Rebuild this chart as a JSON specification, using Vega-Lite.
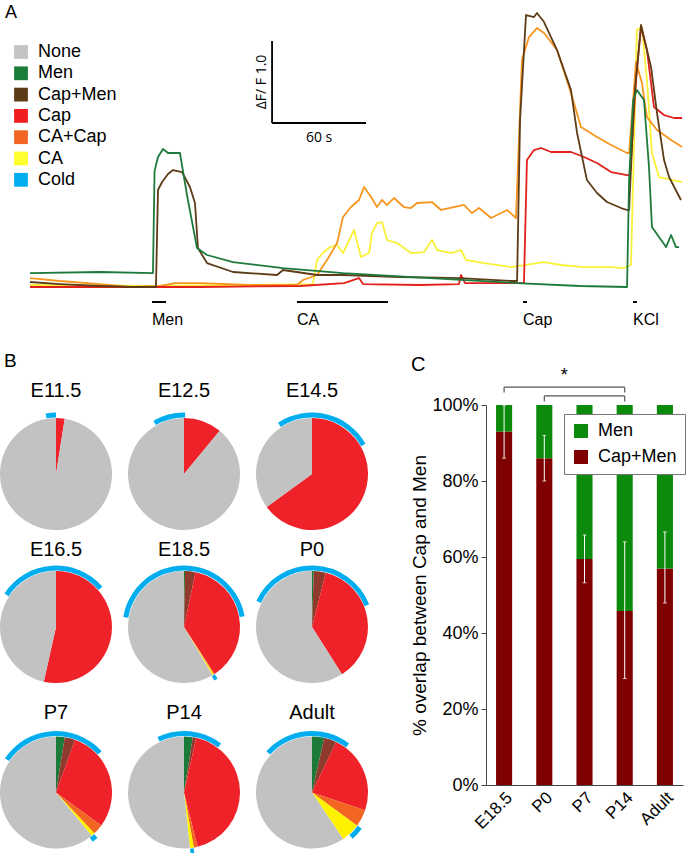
{
  "$schema": "https://vega.github.io/schema/vega-lite/v6.json",
  "padding": 0,
  "background": "white",
  "config": {"view": {"stroke": null}, "font": "Liberation Sans"},
  "datasets": {
    "traces": [
      {"s":"CA","t":0,"v":0.061},{"s":"CA","t":76.6,"v":0.049},{"s":"CA","t":140.4,"v":0.061},{"s":"CA","t":180.6,"v":0.073},{"s":"CA","t":183.2,"v":0.366},{"s":"CA","t":187.0,"v":0.451},{"s":"CA","t":191.5,"v":0.524},{"s":"CA","t":196.0,"v":0.549},{"s":"CA","t":199.8,"v":0.451},{"s":"CA","t":206.8,"v":0.732},{"s":"CA","t":211.3,"v":0.402},{"s":"CA","t":216.4,"v":0.451},{"s":"CA","t":218.3,"v":0.695},{"s":"CA","t":221.5,"v":0.817},{"s":"CA","t":224.7,"v":0.829},{"s":"CA","t":227.9,"v":0.61},{"s":"CA","t":234.3,"v":0.573},{"s":"CA","t":243.2,"v":0.451},{"s":"CA","t":251.5,"v":0.463},{"s":"CA","t":256.6,"v":0.61},{"s":"CA","t":259.8,"v":0.488},{"s":"CA","t":268.7,"v":0.451},{"s":"CA","t":275.1,"v":0.488},{"s":"CA","t":278.3,"v":0.366},{"s":"CA","t":289.8,"v":0.329},{"s":"CA","t":307.0,"v":0.28},{"s":"CA","t":328.1,"v":0.341},{"s":"CA","t":338.9,"v":0.305},{"s":"CA","t":353.6,"v":0.28},{"s":"CA","t":370.9,"v":0.28},{"s":"CA","t":379.2,"v":0.268},{"s":"CA","t":383.6,"v":0.305},{"s":"CA","t":387.4,"v":3.171},{"s":"CA","t":390.6,"v":3.207},{"s":"CA","t":393.8,"v":2.561},{"s":"CA","t":397.0,"v":1.671},{"s":"CA","t":401.5,"v":1.378},{"s":"CA","t":416.2,"v":1.317},
      {"s":"CA+Cap","t":0,"v":0.146},{"s":"CA+Cap","t":19.1,"v":0.11},{"s":"CA+Cap","t":44.7,"v":0.073},{"s":"CA+Cap","t":63.8,"v":0.037},{"s":"CA+Cap","t":83.0,"v":0.049},{"s":"CA+Cap","t":92.6,"v":0.085},{"s":"CA+Cap","t":108.5,"v":0.085},{"s":"CA+Cap","t":140.4,"v":0.061},{"s":"CA+Cap","t":170.4,"v":0.061},{"s":"CA+Cap","t":174.3,"v":0.122},{"s":"CA+Cap","t":183.2,"v":0.183},{"s":"CA+Cap","t":189.6,"v":0.366},{"s":"CA+Cap","t":196.0,"v":0.573},{"s":"CA+Cap","t":199.8,"v":0.89},{"s":"CA+Cap","t":204.9,"v":1.012},{"s":"CA+Cap","t":210.0,"v":1.098},{"s":"CA+Cap","t":213.2,"v":1.256},{"s":"CA+Cap","t":217.7,"v":1.134},{"s":"CA+Cap","t":221.5,"v":1.012},{"s":"CA+Cap","t":224.7,"v":1.098},{"s":"CA+Cap","t":227.9,"v":1.037},{"s":"CA+Cap","t":232.3,"v":1.122},{"s":"CA+Cap","t":238.7,"v":1.012},{"s":"CA+Cap","t":243.2,"v":1.0},{"s":"CA+Cap","t":247.0,"v":1.061},{"s":"CA+Cap","t":256.6,"v":1.073},{"s":"CA+Cap","t":262.3,"v":0.976},{"s":"CA+Cap","t":270.6,"v":1.012},{"s":"CA+Cap","t":277.0,"v":1.037},{"s":"CA+Cap","t":282.1,"v":0.939},{"s":"CA+Cap","t":286.6,"v":1.0},{"s":"CA+Cap","t":294.3,"v":0.878},{"s":"CA+Cap","t":304.5,"v":0.976},{"s":"CA+Cap","t":310.2,"v":0.878},{"s":"CA+Cap","t":314.0,"v":2.805},{"s":"CA+Cap","t":318.5,"v":3.085},{"s":"CA+Cap","t":323.6,"v":3.195},{"s":"CA+Cap","t":328.1,"v":3.134},{"s":"CA+Cap","t":336.4,"v":2.927},{"s":"CA+Cap","t":345.3,"v":2.402},{"s":"CA+Cap","t":351.7,"v":1.988},{"s":"CA+Cap","t":361.9,"v":1.866},{"s":"CA+Cap","t":370.9,"v":1.768},{"s":"CA+Cap","t":381.1,"v":1.671},{"s":"CA+Cap","t":382.4,"v":1.671},{"s":"CA+Cap","t":386.8,"v":2.78},{"s":"CA+Cap","t":390.6,"v":2.524},{"s":"CA+Cap","t":393.8,"v":2.11},{"s":"CA+Cap","t":400.2,"v":1.951},{"s":"CA+Cap","t":409.2,"v":1.829},{"s":"CA+Cap","t":416.2,"v":1.744},
      {"s":"Cap","t":0,"v":0.037},{"s":"Cap","t":44.7,"v":0.037},{"s":"Cap","t":108.5,"v":0.037},{"s":"Cap","t":172.3,"v":0.049},{"s":"Cap","t":200.4,"v":0.085},{"s":"Cap","t":210.0,"v":0.146},{"s":"Cap","t":212.6,"v":0.073},{"s":"Cap","t":248.9,"v":0.061},{"s":"Cap","t":273.8,"v":0.073},{"s":"Cap","t":275.1,"v":0.183},{"s":"Cap","t":277.7,"v":0.085},{"s":"Cap","t":313.4,"v":0.085},{"s":"Cap","t":315.3,"v":0.085},{"s":"Cap","t":317.2,"v":1.585},{"s":"Cap","t":321.7,"v":1.707},{"s":"Cap","t":326.2,"v":1.732},{"s":"Cap","t":332.6,"v":1.683},{"s":"Cap","t":345.3,"v":1.683},{"s":"Cap","t":353.6,"v":1.622},{"s":"Cap","t":361.9,"v":1.549},{"s":"Cap","t":370.9,"v":1.439},{"s":"Cap","t":381.1,"v":1.402},{"s":"Cap","t":383.0,"v":1.402},{"s":"Cap","t":386.8,"v":2.561},{"s":"Cap","t":390.0,"v":3.207},{"s":"Cap","t":393.8,"v":2.927},{"s":"Cap","t":398.3,"v":2.232},{"s":"Cap","t":404.7,"v":2.134},{"s":"Cap","t":411.1,"v":2.098},{"s":"Cap","t":416.2,"v":2.098},
      {"s":"Cap+Men","t":0,"v":0.098},{"s":"Cap+Men","t":19.1,"v":0.073},{"s":"Cap+Men","t":44.7,"v":0.049},{"s":"Cap+Men","t":65.7,"v":0.037},{"s":"Cap+Men","t":80.4,"v":0.037},{"s":"Cap+Men","t":81.7,"v":1.22},{"s":"Cap+Men","t":84.3,"v":1.317},{"s":"Cap+Men","t":88.1,"v":1.415},{"s":"Cap+Men","t":91.3,"v":1.463},{"s":"Cap+Men","t":97.0,"v":1.439},{"s":"Cap+Men","t":102.1,"v":1.256},{"s":"Cap+Men","t":105.3,"v":1.061},{"s":"Cap+Men","t":107.2,"v":0.512},{"s":"Cap+Men","t":113.0,"v":0.329},{"s":"Cap+Men","t":129.6,"v":0.22},{"s":"Cap+Men","t":157.7,"v":0.183},{"s":"Cap+Men","t":161.5,"v":0.244},{"s":"Cap+Men","t":183.2,"v":0.183},{"s":"Cap+Men","t":199.8,"v":0.183},{"s":"Cap+Men","t":236.2,"v":0.159},{"s":"Cap+Men","t":274.5,"v":0.146},{"s":"Cap+Men","t":307.0,"v":0.11},{"s":"Cap+Men","t":310.9,"v":0.11},{"s":"Cap+Men","t":312.8,"v":2.073},{"s":"Cap+Men","t":316.6,"v":3.354},{"s":"Cap+Men","t":321.7,"v":3.329},{"s":"Cap+Men","t":323.6,"v":3.378},{"s":"Cap+Men","t":328.1,"v":3.268},{"s":"Cap+Men","t":336.4,"v":2.927},{"s":"Cap+Men","t":345.3,"v":2.439},{"s":"Cap+Men","t":349.2,"v":1.915},{"s":"Cap+Men","t":355.5,"v":1.341},{"s":"Cap+Men","t":361.9,"v":1.183},{"s":"Cap+Men","t":368.3,"v":1.073},{"s":"Cap+Men","t":377.3,"v":1.0},{"s":"Cap+Men","t":381.1,"v":0.976},{"s":"Cap+Men","t":382.4,"v":0.976},{"s":"Cap+Men","t":385.6,"v":2.317},{"s":"Cap+Men","t":390.0,"v":3.232},{"s":"Cap+Men","t":396.4,"v":2.72},{"s":"Cap+Men","t":400.2,"v":2.159},{"s":"Cap+Men","t":404.7,"v":1.585},{"s":"Cap+Men","t":407.9,"v":1.378},{"s":"Cap+Men","t":415.5,"v":1.098},
      {"s":"Men","t":0,"v":0.207},{"s":"Men","t":44.7,"v":0.22},{"s":"Men","t":78.5,"v":0.207},{"s":"Men","t":79.5,"v":1.45},{"s":"Men","t":81.7,"v":1.622},{"s":"Men","t":84.9,"v":1.72},{"s":"Men","t":88.1,"v":1.671},{"s":"Men","t":95.7,"v":1.671},{"s":"Men","t":100.2,"v":1.159},{"s":"Men","t":106.6,"v":0.512},{"s":"Men","t":113.0,"v":0.427},{"s":"Men","t":129.6,"v":0.341},{"s":"Men","t":161.5,"v":0.268},{"s":"Men","t":199.8,"v":0.207},{"s":"Men","t":255.3,"v":0.146},{"s":"Men","t":310.9,"v":0.085},{"s":"Men","t":351.1,"v":0.049},{"s":"Men","t":381.1,"v":0.037},{"s":"Men","t":382.4,"v":1.341},{"s":"Men","t":385.0,"v":2.317},{"s":"Men","t":387.4,"v":2.439},{"s":"Men","t":391.9,"v":2.317},{"s":"Men","t":395.1,"v":1.5},{"s":"Men","t":397.0,"v":0.768},{"s":"Men","t":401.5,"v":0.646},{"s":"Men","t":406.0,"v":0.524},{"s":"Men","t":409.2,"v":0.671},{"s":"Men","t":412.3,"v":0.524},{"s":"Men","t":414.3,"v":0.524}
    ],
    "scalebar": [
      {"t":154.5,"t2":154.5,"v":2.037,"v2":3.037},
      {"t":154.5,"t2":214.5,"v":2.037,"v2":2.037}
    ],
    "events": [
      {"label":"Men","t":77.9,"t2":86.8},
      {"label":"CA","t":170.4,"t2":228.5},
      {"label":"Cap","t":314.7,"t2":317.2},
      {"label":"KCl","t":384.9,"t2":387.4}
    ],
    "cats": [{"cat":"None"},{"cat":"Men"},{"cat":"Cap+Men"},{"cat":"Cap"},{"cat":"CA+Cap"},{"cat":"CA"},{"cat":"Cold"}],
    "pies": [
      {"stage":"E11.5","row":1,"kind":"slice","cat":"Cap","ord":3,"pct":2.5},
      {"stage":"E11.5","row":1,"kind":"slice","cat":"None","ord":6,"pct":97.5},
      {"stage":"E11.5","row":1,"kind":"cold","cat":"Cold","start":-2.7,"end":0},
      {"stage":"E12.5","row":1,"kind":"slice","cat":"Cap","ord":3,"pct":11},
      {"stage":"E12.5","row":1,"kind":"slice","cat":"None","ord":6,"pct":89},
      {"stage":"E12.5","row":1,"kind":"cold","cat":"Cold","start":-8.3,"end":0.3},
      {"stage":"E14.5","row":1,"kind":"slice","cat":"Cap","ord":3,"pct":65},
      {"stage":"E14.5","row":1,"kind":"slice","cat":"None","ord":6,"pct":35},
      {"stage":"E14.5","row":1,"kind":"cold","cat":"Cold","start":-9.3,"end":16.8},
      {"stage":"E16.5","row":2,"kind":"slice","cat":"Cap","ord":3,"pct":53.5},
      {"stage":"E16.5","row":2,"kind":"slice","cat":"None","ord":6,"pct":46.5},
      {"stage":"E16.5","row":2,"kind":"cold","cat":"Cold","start":-15.8,"end":13.6},
      {"stage":"E18.5","row":2,"kind":"slice","cat":"Men","ord":1,"pct":0.3},
      {"stage":"E18.5","row":2,"kind":"slice","cat":"Cap+Men","ord":2,"pct":3},
      {"stage":"E18.5","row":2,"kind":"slice","cat":"Cap","ord":3,"pct":37.5},
      {"stage":"E18.5","row":2,"kind":"slice","cat":"CA+Cap","ord":4,"pct":0.3},
      {"stage":"E18.5","row":2,"kind":"slice","cat":"CA","ord":5,"pct":0.4},
      {"stage":"E18.5","row":2,"kind":"slice","cat":"None","ord":6,"pct":58.5},
      {"stage":"E18.5","row":2,"kind":"cold","cat":"Cold","start":-22.4,"end":22.2},
      {"stage":"E18.5","row":2,"kind":"cold","cat":"Cold","start":40.8,"end":41.8},
      {"stage":"P0","row":2,"kind":"slice","cat":"Men","ord":1,"pct":0.5},
      {"stage":"P0","row":2,"kind":"slice","cat":"Cap+Men","ord":2,"pct":3.5},
      {"stage":"P0","row":2,"kind":"slice","cat":"Cap","ord":3,"pct":37},
      {"stage":"P0","row":2,"kind":"slice","cat":"None","ord":6,"pct":59},
      {"stage":"P0","row":2,"kind":"cold","cat":"Cold","start":-18,"end":19},
      {"stage":"P7","row":3,"kind":"slice","cat":"Men","ord":1,"pct":2.5},
      {"stage":"P7","row":3,"kind":"slice","cat":"Cap+Men","ord":2,"pct":3},
      {"stage":"P7","row":3,"kind":"slice","cat":"Cap","ord":3,"pct":29.5},
      {"stage":"P7","row":3,"kind":"slice","cat":"CA+Cap","ord":4,"pct":3},
      {"stage":"P7","row":3,"kind":"slice","cat":"CA","ord":5,"pct":1},
      {"stage":"P7","row":3,"kind":"slice","cat":"None","ord":6,"pct":61},
      {"stage":"P7","row":3,"kind":"cold","cat":"Cold","start":-15.6,"end":13.3},
      {"stage":"P7","row":3,"kind":"cold","cat":"Cold","start":38.2,"end":39.8},
      {"stage":"P14","row":3,"kind":"slice","cat":"Men","ord":1,"pct":2.5},
      {"stage":"P14","row":3,"kind":"slice","cat":"Cap+Men","ord":2,"pct":1},
      {"stage":"P14","row":3,"kind":"slice","cat":"Cap","ord":3,"pct":42.6},
      {"stage":"P14","row":3,"kind":"slice","cat":"CA+Cap","ord":4,"pct":1.1},
      {"stage":"P14","row":3,"kind":"slice","cat":"CA","ord":5,"pct":1.1},
      {"stage":"P14","row":3,"kind":"slice","cat":"None","ord":6,"pct":51.7},
      {"stage":"P14","row":3,"kind":"cold","cat":"Cold","start":-7.1,"end":10.3},
      {"stage":"P14","row":3,"kind":"cold","cat":"Cold","start":47.3,"end":48.3},
      {"stage":"Adult","row":3,"kind":"slice","cat":"Men","ord":1,"pct":3.5},
      {"stage":"Adult","row":3,"kind":"slice","cat":"Cap+Men","ord":2,"pct":3.6},
      {"stage":"Adult","row":3,"kind":"slice","cat":"Cap","ord":3,"pct":23},
      {"stage":"Adult","row":3,"kind":"slice","cat":"CA+Cap","ord":4,"pct":5},
      {"stage":"Adult","row":3,"kind":"slice","cat":"CA","ord":5,"pct":5.5},
      {"stage":"Adult","row":3,"kind":"slice","cat":"None","ord":6,"pct":59.4},
      {"stage":"Adult","row":3,"kind":"cold","cat":"Cold","start":-13.3,"end":10.3},
      {"stage":"Adult","row":3,"kind":"cold","cat":"Cold","start":35,"end":38.5}
    ],
    "overlap": [
      {"stage":"E18.5","grp":"Cap+Men","ord":1,"val":93},{"stage":"E18.5","grp":"Men","ord":2,"val":7},
      {"stage":"P0","grp":"Cap+Men","ord":1,"val":86},{"stage":"P0","grp":"Men","ord":2,"val":14},
      {"stage":"P7","grp":"Cap+Men","ord":1,"val":59.5},{"stage":"P7","grp":"Men","ord":2,"val":40.5},
      {"stage":"P14","grp":"Cap+Men","ord":1,"val":45.8},{"stage":"P14","grp":"Men","ord":2,"val":54.2},
      {"stage":"Adult","grp":"Cap+Men","ord":1,"val":57},{"stage":"Adult","grp":"Men","ord":2,"val":43}
    ],
    "errs": [
      {"stage":"E18.5","lo":86,"hi":100},
      {"stage":"P0","lo":80,"hi":92},
      {"stage":"P7","lo":53.2,"hi":65.8},
      {"stage":"P14","lo":28,"hi":64},
      {"stage":"Adult","lo":47.9,"hi":66.6}
    ],
    "brackets": [
      {"stage":"E18.5","stage2":"P14","y":104.7,"y2":103.3},
      {"stage":"P0","stage2":"P14","y":102.4,"y2":100.9}
    ]
  },
  "spacing": 20,
  "resolve": {
    "scale": {"color": "independent", "fill": "independent", "stroke": "independent", "theta": "independent"},
    "legend": {"color": "independent", "fill": "independent", "stroke": "independent"}
  },
  "vconcat": [
    {
      "width": 688,
      "height": 332,
      "title": {"text": "A", "anchor": "start", "frame": "group", "orient": "top", "offset": -36, "baseline": "alphabetic", "fontSize": 18, "fontWeight": "normal", "dx": 5, "color": "black"},
      "layer": [
        {
          "data": {"name": "traces"},
          "mark": {"type": "line", "strokeWidth": 1.8, "strokeJoin": "round"},
          "encoding": {
            "x": {"field": "t", "type": "quantitative", "scale": {"domain": [-19.15, 420], "nice": false, "zero": false}, "axis": null},
            "y": {"field": "v", "type": "quantitative", "scale": {"domain": [-0.512, 3.537], "nice": false, "zero": false}, "axis": null},
            "stroke": {"field": "s", "type": "nominal", "scale": {"domain": ["CA", "CA+Cap", "Cap", "Cap+Men", "Men"], "range": ["#f9f03a", "#f7961e", "#e3201c", "#5e3c17", "#1e7a3c"]}, "legend": null}
          }
        },
        {
          "data": {"name": "scalebar"},
          "mark": {"type": "rule", "color": "black", "strokeWidth": 1.8},
          "encoding": {
            "x": {"field": "t", "type": "quantitative", "scale": {"domain": [-19.15, 420], "nice": false, "zero": false}, "axis": null},
            "y": {"field": "v", "type": "quantitative", "scale": {"domain": [-0.512, 3.537], "nice": false, "zero": false}, "axis": null},
            "x2": {"field": "t2"}, "y2": {"field": "v2"}
          }
        },
        {
          "data": {"values": [{"t": 184.5, "v": 1.854, "label": "60 s"}]},
          "mark": {"type": "text", "font": "Open Sans", "fontSize": 14, "baseline": "middle", "align": "center", "color": "black"},
          "encoding": {
            "x": {"field": "t", "type": "quantitative", "scale": {"domain": [-19.15, 420], "nice": false, "zero": false}, "axis": null},
            "y": {"field": "v", "type": "quantitative", "scale": {"domain": [-0.512, 3.537], "nice": false, "zero": false}, "axis": null},
            "text": {"field": "label"}
          }
        },
        {
          "data": {"values": [{"t": 148.1, "v": 2.537, "label": "ΔF/ F 1.0"}]},
          "mark": {"type": "text", "font": "Open Sans", "fontSize": 14, "baseline": "middle", "align": "center", "angle": 270, "color": "black"},
          "encoding": {
            "x": {"field": "t", "type": "quantitative", "scale": {"domain": [-19.15, 420], "nice": false, "zero": false}, "axis": null},
            "y": {"field": "v", "type": "quantitative", "scale": {"domain": [-0.512, 3.537], "nice": false, "zero": false}, "axis": null},
            "text": {"field": "label"}
          }
        },
        {
          "data": {"name": "events"},
          "mark": {"type": "rule", "color": "black", "strokeWidth": 2},
          "encoding": {
            "x": {"field": "t", "type": "quantitative", "scale": {"domain": [-19.15, 420], "nice": false, "zero": false}, "axis": null},
            "x2": {"field": "t2"},
            "y": {"datum": -0.146, "type": "quantitative", "scale": {"domain": [-0.512, 3.537], "nice": false, "zero": false}, "axis": null}
          }
        },
        {
          "data": {"name": "events"},
          "mark": {"type": "text", "fontSize": 16, "align": "left", "baseline": "middle", "color": "black"},
          "encoding": {
            "x": {"field": "t", "type": "quantitative", "scale": {"domain": [-19.15, 420], "nice": false, "zero": false}, "axis": null},
            "y": {"datum": -0.366, "type": "quantitative", "scale": {"domain": [-0.512, 3.537], "nice": false, "zero": false}, "axis": null},
            "text": {"field": "label"}
          }
        },
        {
          "data": {"name": "cats"},
          "mark": {"type": "square", "opacity": 0, "size": 0},
          "encoding": {
            "fill": {
              "field": "cat", "type": "nominal",
              "scale": {"domain": ["None", "Men", "Cap+Men", "Cap", "CA+Cap", "CA", "Cold"], "range": ["#c3c3c3", "#1b7d3a", "#5c3a16", "#f01e1e", "#f26522", "#ffff2e", "#00aeef"]},
              "legend": {"title": null, "orient": "none", "legendX": 12, "legendY": 43, "symbolType": "square", "symbolSize": 190, "symbolOpacity": 1, "symbolStrokeWidth": 0, "labelFontSize": 18, "labelFont": "Liberation Sans", "labelColor": "black", "rowPadding": 3.3, "padding": 0, "labelOffset": 8}
            }
          }
        }
      ]
    },
    {
      "spacing": 40,
      "resolve": {"scale": {"color": "independent", "theta": "independent"}, "legend": {"color": "independent"}},
      "hconcat": [
        {
          "title": {"text": "B", "anchor": "start", "frame": "group", "fontSize": 19, "fontWeight": "normal", "offset": 10, "dx": 4, "color": "black"},
          "spacing": 19.5,
          "vconcat": [
            {
              "spacing": -3,
              "vconcat": [
                {
                  "data": {"name": "pies"},
                  "transform": [{"filter": "datum.row == 1"}],
                  "bounds": "flush",
                  "spacing": 16,
                  "facet": {"column": {"field": "stage", "type": "nominal", "sort": ["E11.5", "E12.5", "E14.5"], "header": {"title": null, "labelFontSize": 20, "labelPadding": -12, "labelFont": "Liberation Sans", "labelBaseline": "alphabetic", "labelColor": "black"}}},
                  "spec": {
                    "width": 112, "height": 138,
                    "layer": [
                      {"transform": [{"filter": "datum.kind == 'slice'"}], "mark": {"type": "arc", "radius": 56}, "encoding": {"theta": {"field": "pct", "type": "quantitative", "stack": true, "scale": {"domain": [0, 100], "range": [0, 6.283185]}}, "color": {"field": "cat", "type": "nominal", "scale": {"domain": ["None", "Men", "Cap+Men", "Cap", "CA+Cap", "CA", "Cold"], "range": ["#c2c2c2", "#1b7a38", "#8e3a2c", "#ef2229", "#f26522", "#fff200", "#00aeef"]}, "legend": null}, "order": {"field": "ord", "type": "quantitative"}}},
                      {"transform": [{"filter": "datum.kind == 'cold'"}], "mark": {"type": "arc", "radius": 61.5, "radius2": 56.5}, "encoding": {"theta": {"field": "start", "type": "quantitative", "scale": {"domain": [0, 100], "range": [0, 6.283185]}}, "theta2": {"field": "end"}, "color": {"field": "cat", "type": "nominal", "scale": {"domain": ["None", "Men", "Cap+Men", "Cap", "CA+Cap", "CA", "Cold"], "range": ["#c2c2c2", "#1b7a38", "#8e3a2c", "#ef2229", "#f26522", "#fff200", "#00aeef"]}, "legend": null}}}
                    ]
                  }
                },
                {
                  "data": {"name": "pies"},
                  "transform": [{"filter": "datum.row == 2"}],
                  "bounds": "flush",
                  "spacing": 16,
                  "facet": {"column": {"field": "stage", "type": "nominal", "sort": ["E16.5", "E18.5", "P0"], "header": {"title": null, "labelFontSize": 20, "labelPadding": -5, "labelFont": "Liberation Sans", "labelBaseline": "alphabetic", "labelColor": "black"}}},
                  "spec": {
                    "width": 112, "height": 112,
                    "layer": [
                      {"transform": [{"filter": "datum.kind == 'slice'"}], "mark": {"type": "arc", "radius": 56}, "encoding": {"theta": {"field": "pct", "type": "quantitative", "stack": true, "scale": {"domain": [0, 100], "range": [0, 6.283185]}}, "color": {"field": "cat", "type": "nominal", "scale": {"domain": ["None", "Men", "Cap+Men", "Cap", "CA+Cap", "CA", "Cold"], "range": ["#c2c2c2", "#1b7a38", "#8e3a2c", "#ef2229", "#f26522", "#fff200", "#00aeef"]}, "legend": null}, "order": {"field": "ord", "type": "quantitative"}}},
                      {"transform": [{"filter": "datum.kind == 'cold'"}], "mark": {"type": "arc", "radius": 61.5, "radius2": 56.5}, "encoding": {"theta": {"field": "start", "type": "quantitative", "scale": {"domain": [0, 100], "range": [0, 6.283185]}}, "theta2": {"field": "end"}, "color": {"field": "cat", "type": "nominal", "scale": {"domain": ["None", "Men", "Cap+Men", "Cap", "CA+Cap", "CA", "Cold"], "range": ["#c2c2c2", "#1b7a38", "#8e3a2c", "#ef2229", "#f26522", "#fff200", "#00aeef"]}, "legend": null}}}
                    ]
                  }
                }
              ]
            },
            {
              "data": {"name": "pies"},
              "transform": [{"filter": "datum.row == 3"}],
              "bounds": "flush",
              "spacing": 16,
              "facet": {"column": {"field": "stage", "type": "nominal", "sort": ["P7", "P14", "Adult"], "header": {"title": null, "labelFontSize": 20, "labelPadding": -2, "labelFont": "Liberation Sans", "labelBaseline": "alphabetic", "labelColor": "black"}}},
              "spec": {
                "width": 112, "height": 112,
                "layer": [
                  {"transform": [{"filter": "datum.kind == 'slice'"}], "mark": {"type": "arc", "radius": 56}, "encoding": {"theta": {"field": "pct", "type": "quantitative", "stack": true, "scale": {"domain": [0, 100], "range": [0, 6.283185]}}, "color": {"field": "cat", "type": "nominal", "scale": {"domain": ["None", "Men", "Cap+Men", "Cap", "CA+Cap", "CA", "Cold"], "range": ["#c2c2c2", "#1b7a38", "#8e3a2c", "#ef2229", "#f26522", "#fff200", "#00aeef"]}, "legend": null}, "order": {"field": "ord", "type": "quantitative"}}},
                  {"transform": [{"filter": "datum.kind == 'cold'"}], "mark": {"type": "arc", "radius": 61.5, "radius2": 56.5}, "encoding": {"theta": {"field": "start", "type": "quantitative", "scale": {"domain": [0, 100], "range": [0, 6.283185]}}, "theta2": {"field": "end"}, "color": {"field": "cat", "type": "nominal", "scale": {"domain": ["None", "Men", "Cap+Men", "Cap", "CA+Cap", "CA", "Cold"], "range": ["#c2c2c2", "#1b7a38", "#8e3a2c", "#ef2229", "#f26522", "#fff200", "#00aeef"]}, "legend": null}}}
                ]
              }
            }
          ]
        },
        {
          "width": 197,
          "height": 380,
          "title": {"text": "C", "anchor": "start", "frame": "bounds", "fontSize": 20, "fontWeight": "normal", "offset": -8, "color": "black"},
          "encoding": {
            "x": {"field": "stage", "type": "nominal", "scale": {"domain": ["E18.5", "P0", "P7", "P14", "Adult"], "paddingInner": 0.6, "paddingOuter": 0.25}, "axis": {"title": null, "labelAngle": -45, "labelFontSize": 17, "labelColor": "black", "ticks": false, "domainColor": "#444", "labelPadding": 4}},
            "y": {"field": "val", "type": "quantitative", "scale": {"domain": [0, 100], "nice": false}, "axis": {"values": [0, 20, 40, 60, 80, 100], "labelExpr": "datum.value + '%'", "labelFontSize": 18, "labelColor": "black", "tickSize": 5, "tickColor": "#444", "domainColor": "#444", "grid": false, "title": "% overlap between Cap and Men", "titleFontSize": 19, "titleFontWeight": "normal", "titleColor": "black", "titlePadding": 2, "labelPadding": 3}}
          },
          "layer": [
            {
              "data": {"name": "overlap"},
              "mark": {"type": "bar"},
              "encoding": {
                "y": {"field": "val", "stack": "zero"},
                "color": {"field": "grp", "type": "nominal", "scale": {"domain": ["Men", "Cap+Men"], "range": ["#0b8a0b", "#7f0000"]}, "legend": {"title": null, "orient": "none", "legendX": 78, "legendY": 9, "symbolType": "square", "symbolSize": 196, "symbolStrokeWidth": 0, "labelFontSize": 18, "labelColor": "black", "strokeColor": "#777", "fillColor": "white", "padding": 8, "rowPadding": 8, "labelOffset": 8}},
                "order": {"field": "ord", "type": "quantitative"}
              }
            },
            {
              "data": {"name": "errs"},
              "mark": {"type": "rule", "color": "white", "strokeWidth": 1},
              "encoding": {"y": {"field": "lo"}, "y2": {"field": "hi"}}
            },
            {
              "data": {"name": "errs"},
              "transform": [{"fold": ["lo", "hi"], "as": ["end", "ev"]}],
              "mark": {"type": "tick", "color": "white", "size": 4, "thickness": 1},
              "encoding": {"y": {"field": "ev", "stack": null}}
            },
            {
              "data": {"name": "brackets"},
              "mark": {"type": "rule", "color": "#555", "strokeWidth": 1.2},
              "encoding": {"x2": {"field": "stage2"}, "y": {"field": "y", "stack": null}}
            },
            {
              "data": {"name": "brackets"},
              "transform": [{"fold": ["stage", "stage2"], "as": ["end", "pos"]}],
              "mark": {"type": "rule", "color": "#555", "strokeWidth": 1.2},
              "encoding": {"x": {"field": "pos"}, "y": {"field": "y"}, "y2": {"field": "y2"}}
            },
            {
              "data": {"values": [{"stage": "P0", "y": 107.6, "label": "*"}]},
              "mark": {"type": "text", "fontSize": 18, "dx": 20, "baseline": "middle", "color": "black"},
              "encoding": {"y": {"field": "y", "stack": null}, "text": {"field": "label"}}
            }
          ]
        }
      ]
    }
  ]
}
